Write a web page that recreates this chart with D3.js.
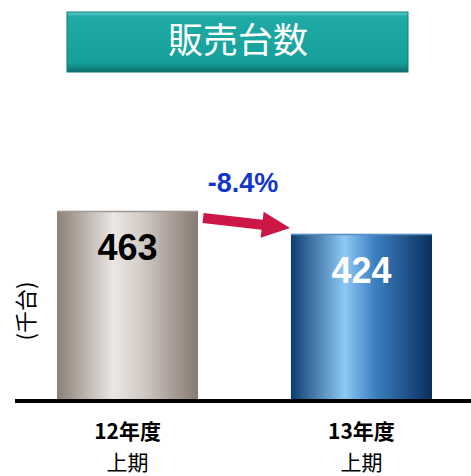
<!DOCTYPE html>
<html>
<head>
<meta charset="utf-8">
<script src="https://cdn.jsdelivr.net/npm/d3@7"></script>
<style>
  html, body { margin: 0; padding: 0; background: #fff; }
</style>
</head>
<body>
<div id="chart"></div>
<script>
// data
const categories = ["12年度\n上期", "13年度\n上期"];
const values = [463, 424];
const changeLabel = "-8.4%";
const title = "販売台数";
const unitLabel = "(千台)";

const width = 471, height = 476;
const font = "'Liberation Sans', Arial, 'Noto Sans CJK JP', sans-serif";

const svg = d3.select("#chart").append("svg")
  .attr("width", width)
  .attr("height", height);

const defs = svg.append("defs");

// gradients for the bars and the title plate
const grads = [
  {id: "g0", stops: [[0, "#8c7f76"], [0.4, "#ebe7e5"], [0.6, "#d2cbc6"], [1, "#877970"]]},
  {id: "g1", stops: [[0, "#0c3d6e"], [0.38, "#8ec9f5"], [0.6, "#3b7fc0"], [1, "#0a2f5c"]]}
];
grads.forEach(g => {
  const lg = defs.append("linearGradient").attr("id", g.id)
    .attr("x1", "0").attr("x2", "1").attr("y1", "0").attr("y2", "0");
  g.stops.forEach(s => lg.append("stop").attr("offset", s[0]).attr("stop-color", s[1]));
});
const tg = defs.append("linearGradient").attr("id", "tg")
  .attr("x1", "0").attr("x2", "0").attr("y1", "0").attr("y2", "1");
[[0, "#5fd0cc"], [0.08, "#20aaa6"], [0.85, "#16a09c"], [1, "#0c6c69"]]
  .forEach(s => tg.append("stop").attr("offset", s[0]).attr("stop-color", s[1]));

// title plate
svg.append("rect")
  .attr("x", 67).attr("y", 12).attr("width", 341).attr("height", 60)
  .attr("fill", "url(#tg)")
  .attr("stroke", "#0f7b78").attr("stroke-width", 1);
svg.append("text")
  .attr("x", 238).attr("y", 53)
  .attr("text-anchor", "middle")
  .attr("fill", "#fff")
  .attr("font-family", "'Noto Sans CJK JP', sans-serif")
  .attr("font-size", 35)
  .text(title);

// scales
const x = d3.scaleBand().domain(categories).range([57, 432]).paddingInner(0.397).paddingOuter(0);
const y = d3.scaleLinear().domain([144, 490]).range([399, 195]);

// bars
svg.selectAll(".bar").data(values).join("rect")
  .attr("class", "bar")
  .attr("x", (d, i) => x(categories[i]))
  .attr("y", d => y(d))
  .attr("width", x.bandwidth())
  .attr("height", d => y(144) - y(d))
  .attr("fill", (d, i) => `url(#g${i})`);
// thin lighter top edge
svg.selectAll(".cap").data(values).join("line")
  .attr("class", "cap")
  .attr("x1", (d, i) => x(categories[i]))
  .attr("x2", (d, i) => x(categories[i]) + x.bandwidth())
  .attr("y1", d => y(d) + 0.5).attr("y2", d => y(d) + 0.5)
  .attr("stroke", (d, i) => i === 0 ? "#a59a93" : "#5a8fc4")
  .attr("stroke-width", 1.5);

// value labels
svg.selectAll(".val").data(values).join("text")
  .attr("class", "val")
  .attr("x", (d, i) => x(categories[i]) + x.bandwidth() / 2)
  .attr("y", d => y(d) + 49)
  .attr("text-anchor", "middle")
  .attr("font-family", font)
  .attr("font-weight", "bold")
  .attr("font-size", 36)
  .attr("fill", (d, i) => i === 0 ? "#000" : "#fff")
  .text(d => d);

// baseline
svg.append("line")
  .attr("x1", 15).attr("x2", width)
  .attr("y1", y(144) + 2).attr("y2", y(144) + 2)
  .attr("stroke", "#000").attr("stroke-width", 4);

// category labels, one text per line
categories.forEach(c => {
  const lines = c.split("\n");
  const cx = x(c) + x.bandwidth() / 2;
  lines.forEach((ln, j) => {
    svg.append("text")
      .attr("x", cx)
      .attr("y", 439 + j * 31)
      .attr("text-anchor", "middle")
      .attr("font-family", "'Noto Sans CJK JP', sans-serif")
      .attr("font-size", 21)
      .attr("font-weight", j === 0 ? "bold" : "normal")
      .attr("fill", "#000")
      .text(ln);
  });
});

// unit label
svg.append("text")
  .attr("transform", "translate(34,311) rotate(-90)")
  .attr("text-anchor", "middle")
  .attr("font-family", "'Noto Sans CJK JP', sans-serif")
  .attr("font-size", 22)
  .attr("fill", "#000")
  .text(unitLabel);

// change arrow between bar tops
const x0 = x(categories[0]) + x.bandwidth() + 5;
const x1 = x(categories[1]) - 1;
const y0 = y(values[0]) + 7;
const y1 = y(values[1]) - 6;
const ang = Math.atan2(y1 - y0, x1 - x0);
const headLen = 28, headW = 13, shaft = 5;
const ux = Math.cos(ang), uy = Math.sin(ang), nx = -uy, ny = ux;
const bx = x1 - ux * headLen, by = y1 - uy * headLen;
const pts = [
  [x0 + nx * shaft, y0 + ny * shaft],
  [bx + nx * shaft, by + ny * shaft],
  [bx + nx * headW, by + ny * headW],
  [x1, y1],
  [bx - nx * headW, by - ny * headW],
  [bx - nx * shaft, by - ny * shaft],
  [x0 - nx * shaft, y0 - ny * shaft]
];
svg.append("path")
  .attr("d", d3.line()(pts) + "Z")
  .attr("fill", "#cc1646");

svg.append("text")
  .attr("x", 243).attr("y", 192)
  .attr("text-anchor", "middle")
  .attr("font-family", font)
  .attr("font-weight", "bold")
  .attr("font-size", 27)
  .attr("fill", "#1236cc")
  .text(changeLabel);
</script>
</body>
</html>
